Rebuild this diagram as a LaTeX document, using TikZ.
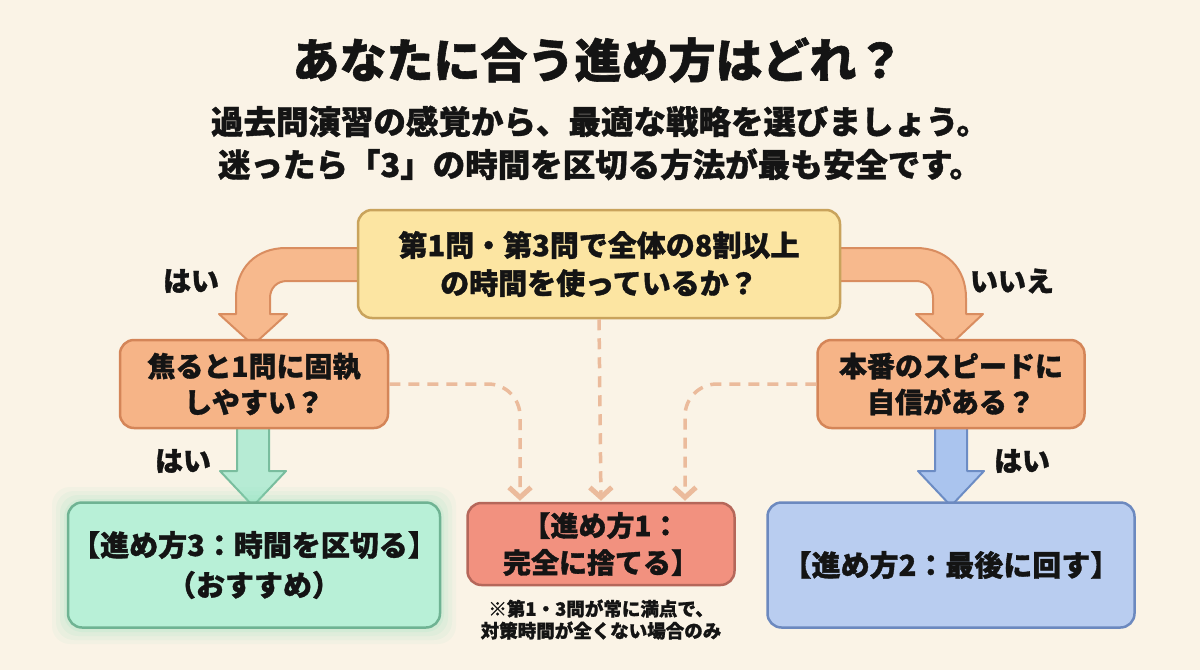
\documentclass[tikz,border=0pt]{standalone}
\usepackage{fontspec}
\setmainfont{Noto Sans CJK JP}[BoldFeatures={FakeBold=1.2}]
\usetikzlibrary{arrows.meta,calc}
\definecolor{bg}{HTML}{FAF3E6}
\definecolor{ink}{HTML}{141414}
\definecolor{yfill}{HTML}{FCE5A2}
\definecolor{ydraw}{HTML}{C9A35C}
\definecolor{ofill}{HTML}{F6B487}
\definecolor{odraw}{HTML}{D48558}
\definecolor{gfill}{HTML}{B8F0D7}
\definecolor{gdraw}{HTML}{6FB393}
\definecolor{glow}{HTML}{8FE3BD}
\definecolor{rfill}{HTML}{F2917F}
\definecolor{rdraw}{HTML}{B5675A}
\definecolor{bfill}{HTML}{B9CDF0}
\definecolor{bdraw}{HTML}{6C89BF}
\definecolor{afill}{HTML}{F7B98D}
\definecolor{adraw}{HTML}{D98D60}
\definecolor{gafill}{HTML}{B6EBD4}
\definecolor{gadraw}{HTML}{79BD9E}
\definecolor{bafill}{HTML}{AAC4EE}
\definecolor{badraw}{HTML}{6C8CC4}
\definecolor{dashc}{HTML}{EBBB9C}
\tikzset{
  box/.style={rounded corners=14pt, line width=2.5pt, align=center, text=ink,
    font=\fontsize{29}{38}\selectfont\bfseries, inner sep=0pt},
  lbl/.style={text=ink, font=\fontsize{28}{34}\selectfont\bfseries},
  dashline/.style={dashc, line width=3.5pt, dash pattern=on 11pt off 8pt,
    rounded corners=32pt, -{Straight Barb[length=10pt,width=22pt,line width=5pt]}, shorten >=1pt},
  bigarrow/.style={line width=2pt, line join=round}
}
\begin{document}
\begin{tikzpicture}[x=1pt,y=-1pt]
\fill[bg] (0,0) rectangle (1200,670);
\useasboundingbox (0,0) rectangle (1200,670);

% titles
\node[text=ink, font=\fontsize{47}{52}\selectfont\bfseries] (title) at (598,60) {あなたに合う進め方はどれ？};
\node[text=ink, font=\fontsize{32.5}{43}\selectfont\bfseries, align=center] (sub) at (600,143)
  {過去問演習の感覚から、最適な戦略を選びましょう。\\迷ったら「3」の時間を区切る方法が最も安全です。};

% big curved arrows (drawn before boxes)
\draw[bigarrow, fill=afill, draw=adraw] (370,248) -- (286,248) .. controls (256,248) and (236,268) .. (236,298)
  -- (236,314) -- (219,314) -- (253,345) -- (287,314) -- (270,314) -- (270,298)
  .. controls (270,288) and (277,281) .. (287,281) -- (370,281) -- cycle;
\draw[bigarrow, fill=afill, draw=adraw] (830,248) -- (916,248) .. controls (946,248) and (966,268) .. (966,298)
  -- (966,314) -- (983,314) -- (950,345) -- (916,314) -- (933,314) -- (933,298)
  .. controls (933,288) and (926,281) .. (916,281) -- (830,281) -- cycle;
% straight arrows
\draw[bigarrow, fill=gafill, draw=gadraw] (237,424) -- (237,471) -- (220,471) -- (253,506) -- (286,471) -- (269,471) -- (269,424) -- cycle;
\draw[bigarrow, fill=bafill, draw=badraw] (935,424) -- (935,471) -- (918,471) -- (951,506) -- (984,471) -- (967,471) -- (967,424) -- cycle;

% glow for recommended box
\foreach \g/\o in {16/0.07,12/0.09,8/0.11,4/0.14}{
  \fill[glow, opacity=\o, rounded corners=18pt] (68-\g,503-\g) rectangle (440+\g,628+\g);
}

% boxes
\node[box, fill=yfill, draw=ydraw, minimum width=482pt, minimum height=108pt] (q1) at (599,264)
  {第1問・第3問で全体の8割以上\\の時間を使っているか？};
\node[box, fill=ofill, draw=odraw, minimum width=268pt, minimum height=88pt, font=\fontsize{28}{36}\selectfont\bfseries] (q2) at (254,384)
  {焦ると1問に固執\\しやすい？};
\node[box, fill=ofill, draw=odraw, minimum width=267pt, minimum height=88pt, font=\fontsize{28}{36}\selectfont\bfseries] (q3) at (951,384)
  {本番のスピードに\\自信がある？};
\node[box, fill=gfill, draw=gdraw, minimum width=372pt, minimum height=125pt, font=\fontsize{29}{40}\selectfont\bfseries] (r3) at (254,565)
  {【進め方3：時間を区切る】\\（おすすめ）};
\node[box, fill=rfill, draw=rdraw, minimum width=267pt, minimum height=82pt, font=\fontsize{28}{37}\selectfont\bfseries] (r1) at (601,544)
  {【進め方1：\\完全に捨てる】};
\node[box, fill=bfill, draw=bdraw, minimum width=367pt, minimum height=125pt] (r2) at (951,565)
  {【進め方2：最後に回す】};

% note
\node[text=ink, font=\fontsize{18.5}{22}\selectfont\bfseries, align=center, anchor=north] (note) at (601,596)
  {※第1・3問が常に満点で、\\対策時間が全くない場合のみ};

% dashed connectors
\draw[dashline] (q1.south) -- (r1.north);
\draw[dashline] (q2.east) -| ([xshift=-81pt]r1.north);
\draw[dashline] (q3.west) -| ([xshift=84pt]r1.north);

% labels
\node[lbl] (l1) at (191,281) {はい};
\node[lbl] (l2) at (1012,281) {いいえ};
\node[lbl] (l3) at (183,461) {はい};
\node[lbl] (l4) at (1022,461) {はい};
\end{tikzpicture}
\end{document}
